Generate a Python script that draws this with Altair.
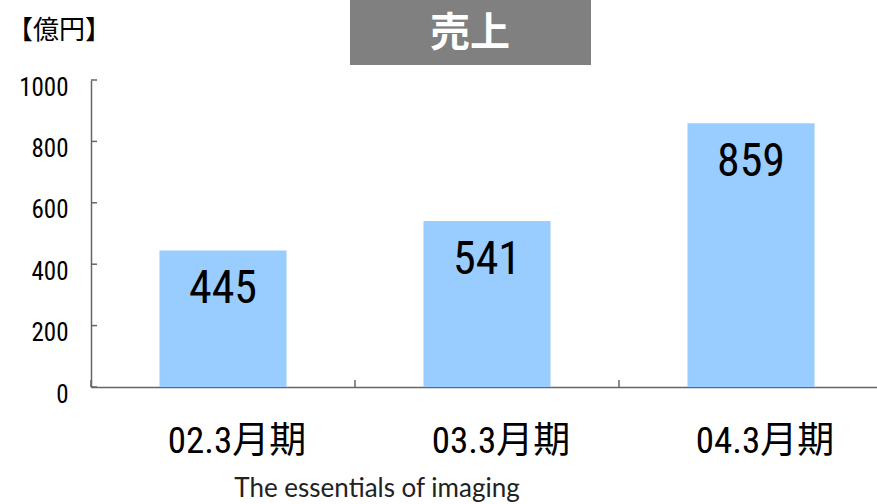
import altair as alt
import pandas as pd

# Sales by fiscal period (unit: 100 million yen)
periods = ["02.3月期", "03.3月期", "04.3月期"]
sales = [445, 541, 859]
y_ticks = [0, 200, 400, 600, 800, 1000]

bars_df = pd.DataFrame({"period": periods, "sales": sales})
ticks_df = pd.DataFrame({"v": y_ticks})
one_row = pd.DataFrame({"k": [0]})

NUM_FONT = ("Liberation Sans Narrow, Arial Narrow, Noto Sans Condensed, "
            "Roboto Condensed, Liberation Sans, Noto Sans CJK JP, sans-serif")
CJK_FONT = "Noto Sans CJK JP, sans-serif"
AXIS_COLOR = "#666666"

x_scale = alt.Scale(domain=periods, range=[0, 792], paddingInner=0, paddingOuter=0)
y_scale = alt.Scale(domain=[0, 1000], nice=False)

x_axis = alt.Axis(
    title=None, labelAngle=0, labelFont=NUM_FONT, labelFontSize=37,
    labelColor="black", labelOffset=14, labelPadding=54, labelBaseline="middle",
    ticks=False, domainColor=AXIS_COLOR, domainWidth=1.5, grid=False,
)
y_axis = alt.Axis(
    title=None, values=y_ticks, format="d", labelFont=NUM_FONT, labelFontSize=25,
    labelColor="black", labelPadding=23, labelOffset=7, ticks=False,
    domainColor=AXIS_COLOR, domainWidth=1.5, grid=False,
)

X = alt.X("period:N", scale=x_scale, sort=periods, axis=x_axis)

base = alt.Chart(bars_df)

bars = base.mark_bar(size=127, color="#99CCFF").encode(
    x=X,
    y=alt.Y("sales:Q", scale=y_scale, axis=y_axis),
)

values = base.mark_text(
    font=NUM_FONT, fontSize=46, baseline="middle", dy=39, color="black"
).encode(
    x=X,
    y=alt.Y("sales:Q", scale=y_scale, axis=y_axis),
    text=alt.Text("sales:Q"),
)

# inward tick marks on both axes
y_tick_marks = alt.Chart(ticks_df).mark_rule(color=AXIS_COLOR, strokeWidth=1.5).encode(
    y=alt.Y("v:Q", scale=y_scale, axis=y_axis),
    x=alt.value(0),
    x2=alt.value(6),
)
x_tick_marks = base.mark_rule(color=AXIS_COLOR, strokeWidth=1.5).encode(
    x=alt.X("period:N", scale=x_scale, sort=periods, bandPosition=0, axis=x_axis),
    y=alt.value(300),
    y2=alt.value(307),
)

# heading box, unit label and footer
title_box = alt.Chart(one_row).mark_rect(color="#808080").encode(
    x=alt.value(259), x2=alt.value(500), y=alt.value(-80), y2=alt.value(-15)
)
title_text = alt.Chart(one_row).mark_text(
    text="売上", font=CJK_FONT, fontSize=40, fontWeight="bold", color="white",
    align="center", baseline="middle",
).encode(x=alt.value(379), y=alt.value(-46))
unit_text = alt.Chart(one_row).mark_text(
    text="【億円】", font=CJK_FONT, fontSize=26, color="black",
    align="left", baseline="middle",
).encode(x=alt.value(-84), y=alt.value(-49))
footer = alt.Chart(one_row).mark_text(
    text="The essentials of imaging", font="Lato, sans-serif", fontSize=26,
    color="#222222", align="center", baseline="middle",
).encode(x=alt.value(286), y=alt.value(409))

chart = alt.layer(
    bars, values, y_tick_marks, x_tick_marks, title_box, title_text, unit_text, footer
).properties(
    width=786,
    height=307,
    autosize=alt.AutoSizeParams(type="none"),
    padding={"left": 91, "top": 80, "right": 0, "bottom": 117},
).configure_view(stroke=None)

chart.save("out.html", embed_options={"renderer": "svg", "actions": False})
